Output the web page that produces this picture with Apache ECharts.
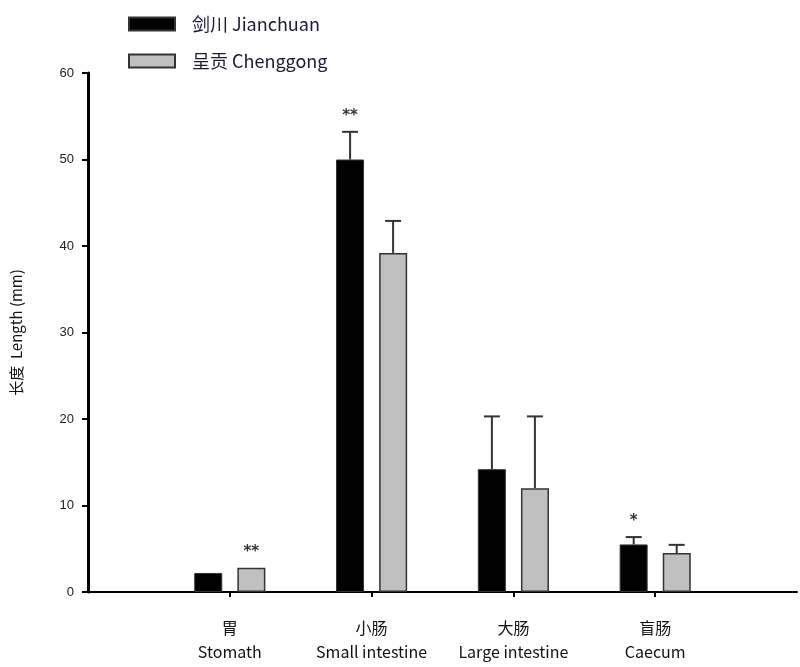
<!DOCTYPE html>
<html><head><meta charset="utf-8">
<script src="https://cdn.jsdelivr.net/npm/echarts@6/dist/echarts.min.js"></script>
<style>html,body{margin:0;padding:0;background:#fff}#c{width:800px;height:667px}</style>
</head><body><div id="c"></div>
<script>
var categories = ['', '胃\nStomath', '小肠\nSmall intestine', '大肠\nLarge intestine', '盲肠\nCaecum', ''];
var jianchuan = [null, 2.2, 50.0, 14.2, 5.5, null];
var jianchuanErr = [null, 0, 3.2, 6.1, 0.85, null];
var chenggong = [null, 2.8, 39.2, 12.0, 4.5, null];
var chenggongErr = [null, 0, 3.7, 8.3, 0.95, null];
var sigJ = ['', '', '**', '', '*', ''];
var sigC = ['', '**', '', '', '', ''];
var yTicks = [0, 10, 20, 30, 40, 50, 60];

var chart = echarts.init(document.getElementById('c'));
function errSeries(vals, errs, sig, off) {
  var data = vals.map(function (v, i) { return [i, v, errs[i], sig[i]]; }).filter(function (d) { return d[1] != null; });
  return {
    type: 'custom', silent: true, z: 5,
    data: data,
    encode: { x: 0, y: 1 },
    renderItem: function (params, api) {
      var i = api.value(0), v = api.value(1), e = api.value(2);
      var s = data[params.dataIndex][3];
      var p0 = api.coord([i, v]);
      var p1 = api.coord([i, v + e]);
      var x = p0[0] + off;
      var children = [];
      if (e > 0) {
        children.push({ type: 'line', shape: { x1: x, y1: p0[1], x2: x, y2: p1[1] }, style: { stroke: '#333', lineWidth: 2 } });
        children.push({ type: 'line', shape: { x1: x - 8, y1: p1[1], x2: x + 8, y2: p1[1] }, style: { stroke: '#333', lineWidth: 2 } });
      }
      if (s) {
        children.push({ type: 'text', style: { text: s, x: x, y: p1[1] - 16, align: 'center', verticalAlign: 'middle', font: 'bold 15px "DejaVu Sans", sans-serif', fill: '#333' } });
      }
      return { type: 'group', children: children };
    }
  };
}
chart.setOption({
  animation: false,
  backgroundColor: '#fff',
  legend: {
    orient: 'vertical', left: 123, top: 10, itemWidth: 46, itemHeight: 13, itemGap: 19,
    textStyle: { fontSize: 18, color: '#1a1a33', fontFamily: '"Noto Sans CJK SC", sans-serif', padding: [0, 0, 0, 12] },
    data: [{ name: '剑川 Jianchuan', icon: 'rect' }, { name: '呈贡 Chenggong', icon: 'rect' }]
  },
  grid: { left: 88, top: 73, width: 720, height: 519 },
  xAxis: {
    type: 'category', data: categories, boundaryGap: false,
    axisLine: { lineStyle: { color: '#000', width: 2 } },
    axisTick: { show: true, length: 5, interval: function (idx) { return idx > 0 && idx < 5; }, lineStyle: { color: '#000', width: 2 } },
    axisLabel: { fontSize: 16, lineHeight: 24, color: '#111', margin: 24, fontFamily: '"Noto Sans CJK SC", sans-serif', interval: 0 }
  },
  yAxis: {
    type: 'value', min: 0, max: 60, interval: 10,
    name: '长度  Length (mm)', nameLocation: 'middle', nameRotate: 90, nameGap: 64,
    nameTextStyle: { fontSize: 15, color: '#111', fontFamily: '"Noto Sans CJK SC", sans-serif' },
    axisLine: { show: true, lineStyle: { color: '#000', width: 3 } },
    axisTick: { show: true, inside: false, length: 6, lineStyle: { color: '#000', width: 2 } },
    axisLabel: { fontSize: 13, color: '#222', margin: 14, fontFamily: 'Arial, "Liberation Sans", sans-serif' },
    splitLine: { show: false }
  },
  series: [
    { name: '剑川 Jianchuan', type: 'bar', data: jianchuan, barWidth: 28, barGap: '54%',
      itemStyle: { color: '#000', borderColor: '#333', borderWidth: 1 } },
    { name: '呈贡 Chenggong', type: 'bar', data: chenggong, barWidth: 28, barGap: '54%',
      itemStyle: { color: '#c0c0c0', borderColor: '#333', borderWidth: 1.5 } },
    errSeries(jianchuan, jianchuanErr, sigJ, -21.5),
    errSeries(chenggong, chenggongErr, sigC, 21.5)
  ]
});
</script></body></html>
